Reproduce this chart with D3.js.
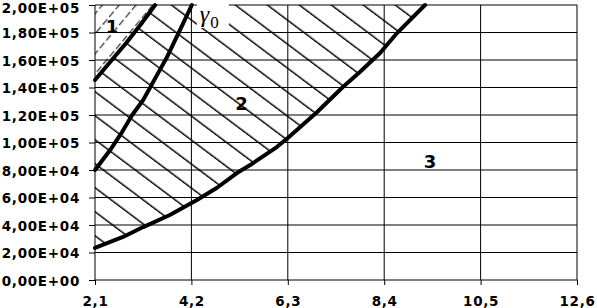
<!DOCTYPE html>
<html>
<head>
<meta charset="utf-8">
<script src="https://cdn.jsdelivr.net/npm/d3@7"></script>
<style>
  body { margin: 0; background: #fff; }
  svg { display: block; }
  .tick text { font-family: "DejaVu Sans", Verdana, sans-serif; font-weight: bold; font-size: 13.5px; letter-spacing: 0.7px; fill: #000; }
  .domain { display: none; }
</style>
</head>
<body>
<svg id="chart" width="597" height="308"></svg>
<script>
// axis ticks
const xTicks = [2.1, 4.2, 6.3, 8.4, 10.5, 12.6];
const xTickLabels = ["2,1", "4,2", "6,3", "8,4", "10,5", "12,6"];
const yTicks = [0, 20000, 40000, 60000, 80000, 100000, 120000, 140000, 160000, 180000, 200000];
const yTickLabels = ["0,00E+00", "2,00E+04", "4,00E+04", "6,00E+04", "8,00E+04", "1,00E+05",
                     "1,20E+05", "1,40E+05", "1,60E+05", "1,80E+05", "2,00E+05"];

// boundary between region 1 and 2
const curve1X = [2.1, 2.43, 2.78, 3.1, 3.41];
const curve1Y = [145500, 158500, 172400, 186000, 200000];

// gamma0 curve
const gammaX = [2.1, 2.43, 2.69, 2.91, 3.15, 3.45, 3.67, 3.95, 4.21];
const gammaY = [80000, 94500, 107600, 120000, 130900, 149000, 162200, 181800, 200000];

// boundary between region 2 and 3
const curve2X = [2.1, 2.71, 3.15, 3.73, 4.32, 4.75, 5.19, 5.48, 6.06, 6.3, 6.94, 7.5, 7.87, 8.31, 8.68, 9.29];
const curve2Y = [23300, 31300, 38500, 47300, 58200, 66900, 77800, 83600, 96700, 103300, 122200, 140400, 151300, 165100, 179600, 200000];

// region labels
const regionLabels = ["1", "2", "3"];
const regionLabelX = [2.47, 5.29, 9.4];
const regionLabelY = [184700, 128400, 86200];

const margin = { top: 5, right: 20, bottom: 28, left: 95 };
const svg = d3.select("#chart");
const width = +svg.attr("width") - margin.left - margin.right;
const height = +svg.attr("height") - margin.top - margin.bottom;

const x = d3.scaleLinear().domain([2.1, 12.6]).range([0, width]);
const y = d3.scaleLinear().domain([0, 200000]).range([height, 0]);

const g = svg.append("g").attr("transform", "translate(" + margin.left + "," + margin.top + ")");

const pts = (xs, ys) => xs.map((v, i) => [v, ys[i]]);
const c1 = pts(curve1X, curve1Y);
const cg = pts(gammaX, gammaY);
const c2 = pts(curve2X, curve2Y);

// hatch patterns
const defs = svg.append("defs");
const p2 = defs.append("pattern")
    .attr("id", "hatch2")
    .attr("patternUnits", "userSpaceOnUse")
    .attr("width", 40).attr("height", 19.2)
    .attr("patternTransform", "rotate(36.9)");
p2.append("line")
    .attr("x1", 0).attr("x2", 40).attr("y1", 11.8).attr("y2", 11.8)
    .attr("stroke", "#000").attr("stroke-width", 1.4);

const p1 = defs.append("pattern")
    .attr("id", "hatch1")
    .attr("patternUnits", "userSpaceOnUse")
    .attr("width", 10).attr("height", 12.9)
    .attr("patternTransform", "rotate(-50)");
p1.append("line")
    .attr("x1", 0).attr("x2", 10).attr("y1", 5.7).attr("y2", 5.7)
    .attr("stroke", "#000").attr("stroke-width", 1)
    .attr("stroke-dasharray", "7,3");

// gridlines
g.append("g").selectAll("line")
    .data(yTicks).enter().append("line")
    .attr("x1", 0).attr("x2", width)
    .attr("y1", d => y(d)).attr("y2", d => y(d))
    .attr("stroke", "#000").attr("stroke-width", 1);
g.append("g").selectAll("line")
    .data(xTicks).enter().append("line")
    .attr("x1", d => x(d)).attr("x2", d => x(d))
    .attr("y1", 0).attr("y2", height)
    .attr("stroke", "#000").attr("stroke-width", 1);

// axes
const yAxis = g.append("g")
    .call(d3.axisLeft(y).tickValues(yTicks).tickSize(6).tickPadding(9)
        .tickFormat((d, i) => yTickLabels[i]));
yAxis.selectAll("line").attr("stroke", "#000");
// keep the top label inside the page
yAxis.selectAll("text").attr("dy", d => d === 200000 ? "0.55em" : "0.4em");
g.append("g")
    .attr("transform", "translate(0," + height + ")")
    .call(d3.axisBottom(x).tickValues(xTicks).tickSize(5).tickPadding(11)
        .tickFormat((d, i) => xTickLabels[i]))
    .selectAll("line").attr("stroke", "#000");

const area = d3.line().x(d => x(d[0])).y(d => y(d[1]));

// region 1: above curve1
const region1 = [[2.1, 200000]].concat(c1);
g.append("path")
    .attr("d", area(region1) + "Z")
    .attr("fill", "url(#hatch1)");

// region 2: between curve1 and curve2
const region2 = c1.concat(c2.slice().reverse());
g.append("path")
    .attr("d", area(region2) + "Z")
    .attr("fill", "url(#hatch2)");

// thick curves
[c1, cg, c2].forEach(c => {
    g.append("path")
        .attr("d", area(c))
        .attr("fill", "none")
        .attr("stroke", "#000")
        .attr("stroke-width", 4)
        .attr("stroke-linejoin", "round")
        .attr("stroke-linecap", "round");
});

// gamma0 label
const gx = x(gammaX[gammaX.length - 1]);
g.append("rect")
    .attr("x", gx + 5).attr("y", -3)
    .attr("width", 32).attr("height", 26)
    .attr("fill", "#fff");
const gl = g.append("text")
    .attr("x", gx + 8).attr("y", 17)
    .attr("font-family", "Liberation Serif, Times New Roman, serif")
    .attr("fill", "#000");
gl.append("tspan").attr("font-style", "italic").attr("font-size", 24).text("γ");
gl.append("tspan").attr("font-size", 17).attr("dy", 6).attr("dx", 1).text("0");

// region labels
g.append("g").selectAll("text")
    .data(regionLabels).enter().append("text")
    .attr("x", (d, i) => x(regionLabelX[i]))
    .attr("y", (d, i) => y(regionLabelY[i]))
    .attr("text-anchor", "middle")
    .attr("dy", "0.36em")
    .attr("font-family", "DejaVu Sans, Verdana, sans-serif")
    .attr("font-weight", "bold")
    .attr("font-size", 18)
    .attr("fill", "#000")
    .text(d => d);
</script>
</body>
</html>
